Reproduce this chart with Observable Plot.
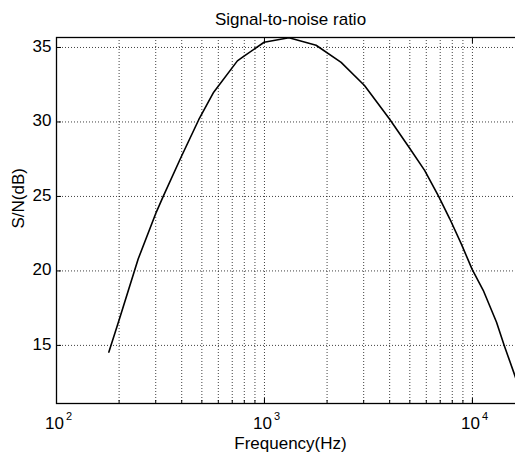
<!DOCTYPE html>
<html><head><meta charset="utf-8">
<script src="https://cdn.jsdelivr.net/npm/d3@7"></script>
<script src="https://cdn.jsdelivr.net/npm/@observablehq/plot@0.6"></script>
<style>
html,body{margin:0;overflow:hidden;background:#fff}
#chart{width:540px}
svg{font-family:"Liberation Sans",Arial,sans-serif;max-width:none !important;width:540px !important;height:456px !important}
</style>
</head><body><div id="chart"></div>
<script>
// Frequency (Hz) and S/N (dB)
const freq = [178.6, 200, 247, 302, 326, 396, 483, 570, 741, 785, 996, 1312, 1771, 2337, 3027, 3993, 4955, 5890, 6880, 7780, 8850, 9970, 11270, 13060, 14220, 16300, 17800];
const snr  = [14.55, 16.7, 20.8, 23.95, 25.0, 27.6, 30.15, 32.0, 34.1, 34.35, 35.35, 35.65, 35.15, 34.0, 32.45, 30.2, 28.3, 26.75, 25.0, 23.5, 21.8, 20.1, 18.7, 16.55, 15.0, 12.65, 11.1];
const xMajor = [100, 1000, 10000];
const xExp = ["2", "3", "4"];
const xGrid = [100,200,300,400,500,600,700,800,900,1000,2000,3000,4000,5000,6000,7000,8000,9000,10000];
const yTicks = [15, 20, 25, 30, 35];
const xDomain = [100, 17800];
const yDomain = [11.1, 35.67];
const title = "Signal-to-noise ratio";
const xLabel = "Frequency(Hz)";
const yLabel = "S/N(dB)";

const data = freq.map((f, i) => ({f, s: snr[i]}));
const majors = xMajor.map((v, i) => ({v, e: xExp[i]}));

const chart = Plot.plot({
  width: 540, height: 456,
  marginLeft: 56, marginRight: 16, marginTop: 37, marginBottom: 53,
  style: {fontSize: "17px", fontFamily: "'Liberation Sans', Arial, sans-serif", background: "#fff", color: "#000", maxWidth: "none"},
  x: {type: "log", domain: xDomain, axis: null},
  y: {domain: yDomain, axis: null},
  marks: [
    Plot.ruleX(xGrid, {x: d => d, stroke: "#000", strokeWidth: 1, strokeDasharray: "1,2", strokeOpacity: 0.75}),
    Plot.ruleY(yTicks, {y: d => d, stroke: "#000", strokeWidth: 1, strokeDasharray: "1,2", strokeOpacity: 0.75}),
    Plot.axisY({anchor: "left", ticks: yTicks, tickSize: -5, tickFormat: () => "", label: null}),
    Plot.axisX({anchor: "bottom", ticks: xGrid, tickSize: -3, tickFormat: () => "", label: null}),
    Plot.axisX({anchor: "bottom", ticks: xMajor, tickSize: -5, tickFormat: () => "", label: null}),
    Plot.axisX({anchor: "top", ticks: xMajor, tickSize: -5, tickFormat: () => "", label: null}),
    Plot.frame({stroke: "#000", strokeWidth: 1.3}),
    Plot.line(data, {x: "f", y: "s", stroke: "#000", strokeWidth: 1.6}),
    Plot.text(yTicks, {y: d => d, text: d => String(d), frameAnchor: "left", dx: -5, dy: -1, textAnchor: "end", lineAnchor: "middle", fontSize: 17}),
    Plot.text(majors, {x: "v", text: () => "10", frameAnchor: "bottom", dy: 20, textAnchor: "middle", dx: -2, lineAnchor: "middle", fontSize: 17}),
    Plot.text(majors, {x: "v", text: "e", frameAnchor: "bottom", dy: 13, dx: 9.5, textAnchor: "start", lineAnchor: "middle", fontSize: 11}),
    Plot.text([xLabel], {text: d => d, frameAnchor: "bottom", dy: 40, lineAnchor: "middle", fontSize: 17}),
    Plot.text([title], {text: d => d, frameAnchor: "top", dy: -17.5, lineAnchor: "middle", fontSize: 17}),
    Plot.text([yLabel], {text: d => d, frameAnchor: "left", dx: -38, dy: 8, rotate: -90, lineAnchor: "middle", fontSize: 17})
  ]
});
document.getElementById("chart").append(chart);
</script>
</body></html>
